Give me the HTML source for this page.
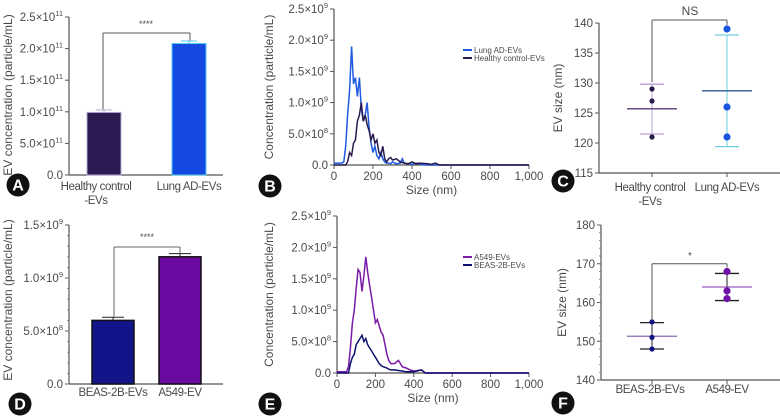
<!DOCTYPE html>
<html><head><meta charset="utf-8">
<style>
html,body{margin:0;padding:0;background:#fff;}
svg{display:block;font-family:"Liberation Sans",sans-serif;}
text{fill:#4a4a4a;}
</style></head>
<body>
<svg id="fig" width="780" height="420" viewBox="0 0 780 420"></svg>
<script>
// ---- Panel A data ----
const aCats = ["Healthy control|-EVs", "Lung AD-EVs"];
const aVals = [0.99, 2.08];          // x10^11
const aErr = [0.04, 0.04];
const aTicks = ["0.0","5.0×10^11","1.0×10^11","1.5×10^11","2.0×10^11","2.5×10^11"];
// ---- Panel B data ----
const bSizes = [0,10,20,30,40,50,60,70,80,90,100,110,120,130,140,150,160,170,180,190,200,210,220,230,240,250,260,270,280,290,300,320,340,350,360,380,400,420,440,480,500,520,540,600,700,800,900,1000];
const bLung =  [0.03,0.03,0.03,0.03,0.03,0.05,0.3,0.8,1.2,1.9,1.3,1.4,1.1,1.4,0.9,0.7,0.8,1.0,0.6,0.35,0.2,0.3,0.15,0.1,0.2,0.1,0.05,0.03,0.03,0.02,0.05,0.02,0.03,0.1,0.03,0.02,0.01,0.03,0.01,0,0,0,0,0,0,0,0,0];
const bHealthy=[0,0,0,0,0,0,0,0.05,0.2,0.15,0.35,0.4,0.7,0.8,1.0,0.7,0.8,0.65,0.55,0.4,0.5,0.35,0.4,0.2,0.15,0.3,0.1,0.05,0.1,0.12,0.08,0.1,0.05,0.04,0.03,0.02,0.05,0.02,0.03,0.02,0.01,0.03,0,0,0,0,0,0];
const bxTicks = ["0","200","400","600","800","1,000"];
const byTicks = ["0.0","5.0×10^8","1.0×10^9","1.5×10^9","2.0×10^9","2.5×10^9"];
// ---- Panel C data ----
const cCats = ["Healthy control|-EVs","Lung AD-EVs"];
const cPts = [[129,127,121],[139,126,121]];
const cMean = [125.7,128.7];
const cSD = [[121.5,129.8],[119.4,138]];
const cTicks = [115,120,125,130,135,140];
// ---- Panel D data ----
const dCats = ["BEAS-2B-EVs","A549-EV"];
const dVals = [0.6,1.2];             // x10^9
const dErr = [0.03,0.03];
const dTicks = ["0.0","5.0×10^8","1.0×10^9","1.5×10^9"];
// ---- Panel E data ----
const eSizes = [0,10,20,30,40,50,60,70,80,90,100,110,120,130,140,150,160,170,180,190,200,210,220,230,240,250,260,270,280,300,320,340,360,380,400,440,460,500,600,700,800,900,1000];
const eA549 = [0.02,0.02,0.02,0.02,0.02,0.02,0.1,0.4,0.8,1.0,1.35,1.65,1.6,1.3,1.55,1.85,1.6,1.4,1.2,1.0,0.8,0.85,0.75,0.65,0.6,0.45,0.3,0.2,0.15,0.15,0.2,0.1,0.08,0.05,0.03,0.05,0,0,0,0,0,0,0];
const eBeas = [0,0,0,0,0,0,0,0.15,0.25,0.3,0.45,0.5,0.55,0.6,0.5,0.55,0.45,0.4,0.35,0.3,0.25,0.2,0.15,0.12,0.1,0.09,0.08,0.06,0.05,0.05,0.04,0.03,0.02,0.02,0.02,0.05,0,0,0,0,0,0,0];
// ---- Panel F data ----
const fCats = ["BEAS-2B-EVs","A549-EV"];
const fPts = [[155,151,148],[168,163,161]];
const fMean = [151.3,164];
const fSD = [[148,154.8],[160.5,167.5]];
const fTicks = [140,150,160,170,180];

const svg = document.getElementById('fig');
const NS='http://www.w3.org/2000/svg';
function mk(tag, at, txt){const e=document.createElementNS(NS,tag);for(const k in at)e.setAttribute(k,at[k]);if(txt!==undefined)e.textContent=txt;svg.appendChild(e);return e;}
function line(x1,y1,x2,y2,c,w){return mk('line',{x1,y1,x2,y2,stroke:c,'stroke-width':w||1});}
function txt(x,y,s,size,anchor,extra){return mk('text',Object.assign({x,y,'font-size':size||11.5,'text-anchor':anchor||'middle'},extra||{}),s);}
function catLabel(x,y,s){const parts=s.split('|');parts.forEach((p,i)=>{const t=txt(x,y+i*14,p,11.5,'middle',{'letter-spacing':'-0.4'});

});}
function badge(cx,cy,L){const c=mk('circle',{cx,cy,r:11.5,fill:'#111'});


const t=mk('text',{x:cx,y:cy+5.5,'font-size':16,'font-weight':'bold','text-anchor':'middle',style:'fill:#fff'},L);

}
function ytitle(x,y,s){const t=txt(x,y,s,12,'middle',{transform:`rotate(-90 ${x} ${y})`});

}
function tickText(x,y,l){const parts=l.split('^');const t=txt(x,y,parts[0],11.5,'end');
if(parts[1]){t.textContent='';const a=document.createElementNS(NS,'tspan');a.textContent=parts[0];t.appendChild(a);
const b=document.createElementNS(NS,'tspan');b.textContent=parts[1];b.setAttribute('font-size','7.5');b.setAttribute('dy','-5');t.appendChild(b);}
return t;}
function yAxis(x,y0,y1,labels,minor){line(x,y0,x,y1,'#555',1.2);
const n=labels.length-1;labels.forEach((l,i)=>{const y=y0-(y0-y1)*i/n;line(x-4,y,x,y,'#555');const t=tickText(x-6,y+4,l);

});
if(minor){for(let i=0;i<n*minor;i++){const y=y0-(y0-y1)*i/(n*minor);line(x-2,y,x,y,'#777',0.8);}}}

// ---- Panel A ----
(function(){const x0=69,y0=175,yT=17,max=2.5;const ys=v=>y0-(y0-yT)*v/max;
yAxis(x0,y0,yT,aTicks);line(x0,y0,223,y0,'#555',1.2);
const xs=[104,189],w=34,fills=['#2c1a52','#1349e0'],strokes=['#b9a9d6','#4fc8ee'];
aVals.forEach((v,i)=>{const r=mk('rect',{x:xs[i]-w/2,y:ys(v),width:w,height:y0-ys(v),fill:fills[i],stroke:strokes[i],'stroke-width':1});


line(xs[i],ys(v),xs[i],ys(v+aErr[i]),strokes[i]);line(xs[i]-8,ys(v+aErr[i]),xs[i]+8,ys(v+aErr[i]),strokes[i]);
catLabel(xs[i]+(i?0:-8),190,aCats[i]);});
line(103,ys(aVals[0]+0.05),103,33,'#555');line(103,33,190,33,'#555');line(190,33,190,ys(aVals[1]+0.05),'#555');
txt(146,27,'****',9);
ytitle(12,95,'EV concentration (particle/mL)');badge(18,185,'A');})();

// ---- line chart helper ----
function lineChart(x0,y0,yT,xEnd,sizes,series,colors,names,legY,badgeL,badgeY){
const xs=v=>x0+(xEnd-x0)*v/1000, ys=v=>y0-(y0-yT)*v/2.5;
yAxis(x0,y0,yT,byTicks);line(x0,y0,xEnd,y0,'#555',1.2);
bxTicks.forEach((l,i)=>{const x=xs(i*200);line(x,y0,x,y0+4,'#555');const t=txt(x,y0+15,l,11.5);

});
const xt=txt((x0+xEnd)/2,y0+29,'Size (nm)',12);


series.forEach((s,k)=>{const p=mk('polyline',{points:s.map((v,i)=>xs(sizes[i]).toFixed(1)+','+ys(v).toFixed(1)).join(' '),fill:'none',stroke:colors[k],'stroke-width':1.5});


line(463,legY+k*8,472,legY+k*8,colors[k],2);const t=txt(474,legY+k*8+3,names[k],8,'start');

});
ytitle(273,(y0+yT)/2,'Concentration (particle/mL)');badge(270,badgeY,badgeL);}
lineChart(334,165,9,529,bSizes,[bLung,bHealthy],['#1f5ae0','#2a1a50'],['Lung AD-EVs','Healthy control-EVs'],50,'B',186);
lineChart(337,373,216,529,eSizes,[eA549,eBeas],['#7a1aa8','#101070'],['A549-EVs','BEAS-2B-EVs'],257,'E',404);

// ---- dot plot helper ----
function dotPlot(x0,y0,yT,ticks,cats,pts,means,sds,ptCol,meanCol,sdCol,minor,r,bracketV,sig,badgeL,badgeY,labY,titleX){
const mn=ticks[0],mx=ticks[ticks.length-1],ys=v=>y0-(y0-yT)*(v-mn)/(mx-mn);
yAxis(x0,y0,yT,ticks.map(String),minor);line(x0,y0,780,y0,'#555',1.2);
const xs=[652,727];
cats.forEach((c,i)=>{const x=xs[i];line(x,y0,x,y0+4,'#555');
line(x,ys(sds[i][0]),x,ys(sds[i][1]),sdCol[i]);line(x-12,ys(sds[i][0]),x+12,ys(sds[i][0]),sdCol[i],1.3);line(x-12,ys(sds[i][1]),x+12,ys(sds[i][1]),sdCol[i],1.3);
line(x-25,ys(means[i]),x+25,ys(means[i]),meanCol[i],1.3);
pts[i].forEach(v=>{const d=mk('circle',{cx:x,cy:ys(v),r:r[i],fill:ptCol[i]});

});
catLabel(x+(i?0:-2),labY,c);});
const by=ys(bracketV);line(xs[0],by,xs[1],by,'#555');line(xs[0],by,xs[0],ys(sds[0][1])-2,'#555');line(xs[1],by,xs[1],ys(pts[1][0])-4,'#555');
txt(690,by-5,sig,sig==='NS'?12:10);
ytitle(titleX,(y0+yT)/2,'EV size (nm)');badge(563,badgeY,badgeL);}
dotPlot(599,173,23,cTicks,cCats,cPts,cMean,cSD,['#2a1a4a','#1a55e0'],['#5a3a7a','#2a5a9a'],['#b7a0d0','#6fd0e0'],0,[2.6,3.6],140.5,'NS','C',181,191,562);
dotPlot(601,380,225,fTicks,fCats,fPts,fMean,fSD,['#101080','#7010a8'],['#8a6ab0','#9a5ac0'],['#222','#222'],5,[2.6,3.6],170,'*','F',403,393,566);

// ---- Panel D ----
(function(){const x0=69,y0=384,yT=225,max=1.5;const ys=v=>y0-(y0-yT)*v/max;
yAxis(x0,y0,yT,dTicks,5);line(x0,y0,223,y0,'#555',1.2);
const xs=[113,180],w=42,fills=['#14148a','#6a0aa0'];
dVals.forEach((v,i)=>{const r=mk('rect',{x:xs[i]-w/2,y:ys(v),width:w,height:y0-ys(v),fill:fills[i],stroke:'#111','stroke-width':1.5});


line(xs[i],ys(v),xs[i],ys(v+dErr[i]),'#222');line(xs[i]-11,ys(v+dErr[i]),xs[i]+11,ys(v+dErr[i]),'#222');
catLabel(xs[i],396,dCats[i]);});
line(114,ys(dVals[0]+0.035),114,247,'#666');line(114,247,180,247,'#666');line(180,247,180,ys(dVals[1]+0.035),'#666');
txt(147,240,'****',9);
ytitle(12,300,'EV concentration (particle/mL)');badge(20,404,'D');})();
</script>
</body></html>
